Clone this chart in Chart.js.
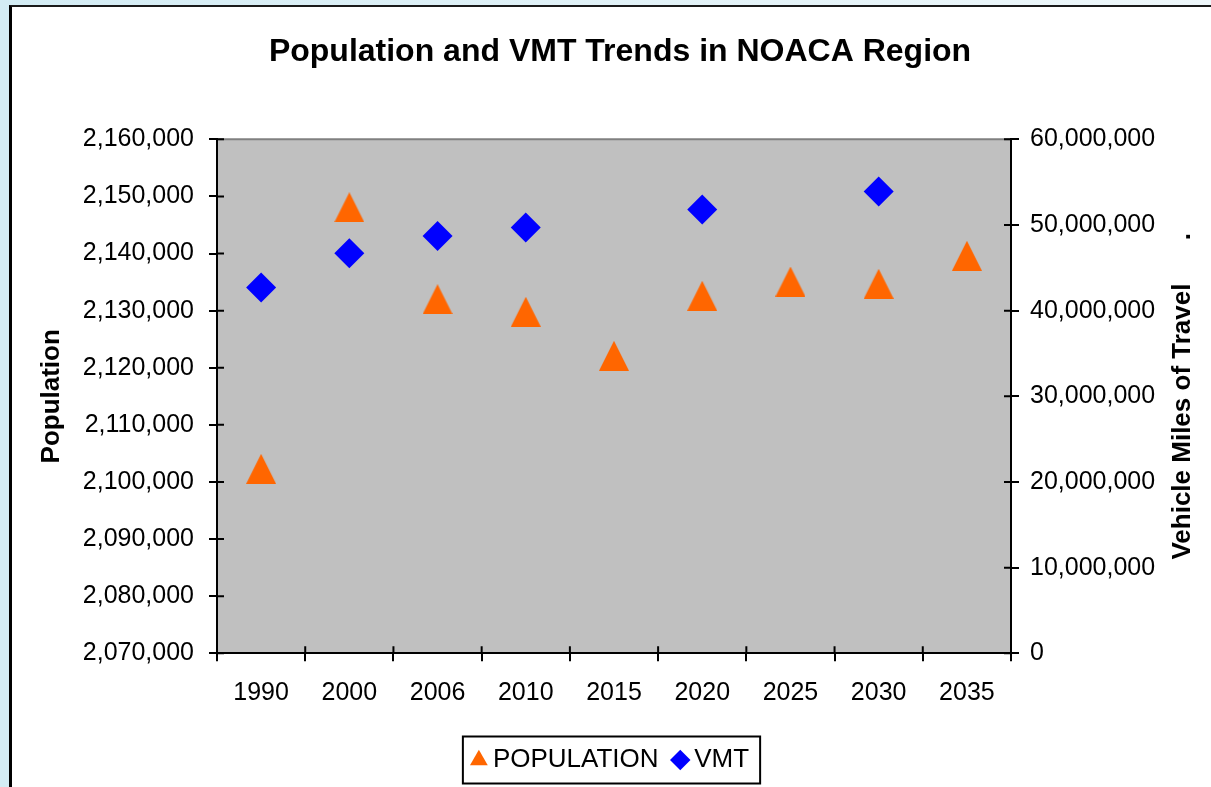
<!DOCTYPE html>
<html>
<head>
<meta charset="utf-8">
<script src="https://cdn.jsdelivr.net/npm/chart.js@4"></script>
<style>
    html, body { margin: 0; padding: 0; width: 1211px; height: 787px; overflow: hidden; }
    body { background: linear-gradient(to right, #d3ecf4, #eef7fa); position: relative; }
    .frame { position: absolute; left: 9px; top: 5px; width: 1300px; height: 900px; background: #fff; border-left: 3px solid #000; border-top: 2px solid #1a1a1a; }
    #chart { position: absolute; left: 0; top: 0; }
</style>
</head>
<body>
<div class="frame"></div>
<canvas id="chart" width="1211" height="787"></canvas>
<script>
"use strict";

const TITLE = "Population and VMT Trends in NOACA Region";
const YEARS = ["1990", "2000", "2006", "2010", "2015", "2020", "2025", "2030", "2035"];
const POPULATION = [2102300, 2148100, 2132000, 2129800, 2122100, 2132600, 2135100, 2134700, 2139600];
const VMT = [42700000, 46700000, 48700000, 49700000, null, 51800000, null, 53900000, null];
const POP_TICKS = { min: 2070000, max: 2160000, step: 10000 };
const VMT_TICKS = { min: 0, max: 60000000, step: 10000000 };

const FONT = "'Liberation Sans', Arial, sans-serif";
const ORANGE = "#ff6600";
const BLUE = "#0000ff";

// excel style triangle: bounding box centred on the point
function triangleMarker(size, color) {
    const c = document.createElement("canvas");
    c.width = size; c.height = size;
    const g = c.getContext("2d");
    g.fillStyle = color;
    g.beginPath();
    g.moveTo(size / 2, 0);
    g.lineTo(size, size);
    g.lineTo(0, size);
    g.closePath();
    g.fill();
    return c;
}

const fmt = (v) => Number(v).toLocaleString("en-US");

const excelFrame = {
    id: "excelFrame",
    beforeDraw(chart) {
        const { ctx, chartArea: a } = chart;
        ctx.save();
        ctx.fillStyle = "#c0c0c0";
        ctx.fillRect(a.left, a.top, a.right - a.left, a.bottom - a.top);
        ctx.strokeStyle = "#808080";
        ctx.lineWidth = 2;
        ctx.beginPath();
        ctx.moveTo(a.left, a.top);
        ctx.lineTo(a.right, a.top);
        ctx.stroke();

        ctx.font = "bold 32px " + FONT;
        ctx.fillStyle = "#000";
        ctx.textAlign = "center";
        ctx.textBaseline = "middle";
        ctx.fillText(TITLE, (a.left + a.right) / 2 + 6, 52);
        ctx.restore();
    },
    beforeDatasetsDraw(chart) {
        // tick marks crossing into the plot area
        const { ctx, chartArea: a, scales } = chart;
        ctx.save();
        ctx.strokeStyle = "#000";
        ctx.lineWidth = 2;
        ctx.beginPath();
        for (let i = 0; i <= YEARS.length; i++) {
            const px = scales.x.getPixelForValue(i - 0.5);
            ctx.moveTo(px, a.bottom);
            ctx.lineTo(px, a.bottom - 7);
        }
        scales.y.ticks.forEach((t, i) => {
            const py = scales.y.getPixelForTick(i);
            ctx.moveTo(a.left, py);
            ctx.lineTo(a.left + 7, py);
        });
        scales.y1.ticks.forEach((t, i) => {
            const py = scales.y1.getPixelForTick(i);
            ctx.moveTo(a.right, py);
            ctx.lineTo(a.right - 7, py);
        });
        ctx.stroke();
        ctx.restore();
    },
    afterDraw(chart) {
        const { ctx, chartArea: a, scales, legend } = chart;
        ctx.save();
        // right axis title reads bottom to top
        ctx.translate(scales.y1.right - 28, (a.top + a.bottom) / 2);
        ctx.rotate(-Math.PI / 2);
        ctx.font = "bold 26px " + FONT;
        ctx.fillStyle = "#000";
        ctx.textAlign = "center";
        ctx.textBaseline = "middle";
        ctx.fillText("Vehicle Miles of Travel      .", 0, 0);
        ctx.restore();

        const boxes = legend.legendHitBoxes;
        if (boxes && boxes.length) {
            const first = boxes[0], last = boxes[boxes.length - 1];
            const cy = first.top + first.height / 2;
            const x0 = first.left - 15, x1 = last.left + last.width + 11;
            ctx.save();
            ctx.strokeStyle = "#000";
            ctx.lineWidth = 2;
            ctx.strokeRect(x0, cy - 23.5, x1 - x0, 47);
            ctx.restore();
        }
    },
};

new Chart(document.getElementById("chart"), {
    type: "line",
    data: {
        labels: YEARS,
        datasets: [
            { label: "POPULATION", data: POPULATION, yAxisID: "y", showLine: false, pointStyle: triangleMarker(30, ORANGE), pointRadius: 15, pointHoverRadius: 15, backgroundColor: ORANGE, borderColor: ORANGE, borderWidth: 0 },
            { label: "VMT", data: VMT, yAxisID: "y1", showLine: false, pointStyle: "rectRot", pointRadius: 15, pointHoverRadius: 15, backgroundColor: BLUE, borderColor: BLUE, pointBorderWidth: 0 },
        ],
    },
    options: {
        responsive: false,
        animation: false,
        layout: { padding: { left: 16, right: 0, top: 139.3, bottom: 4 } },
        plugins: {
            title: { display: false },
            legend: {
                position: "bottom",
                labels: {
                    usePointStyle: true, boxWidth: 2, boxHeight: 14.5, padding: 20.7, color: "#000",
                    font: { family: FONT, size: 26 },
                    generateLabels(chart) {
                        const items = Chart.defaults.plugins.legend.labels.generateLabels(chart);
                        return items.map((it, i) => Object.assign(it, { pointStyle: i === 0 ? "triangle" : "rectRot", lineWidth: 0, strokeStyle: it.fillStyle }));
                    },
                },
            },
            tooltip: { enabled: false },
        },
        scales: {
            x: {
                offset: true,
                grid: { offset: true, drawOnChartArea: false, tickLength: 8, color: "#000", lineWidth: 2 },
                border: { color: "#000", width: 2 },
                ticks: { color: "#000", padding: 16.5, font: { family: FONT, size: 25 }, maxRotation: 0 },
                afterFit(s) { s.height = 73; },
            },
            y: {
                position: "left", min: POP_TICKS.min, max: POP_TICKS.max,
                grid: { drawOnChartArea: false, tickLength: 8, color: "#000", lineWidth: 2 },
                border: { color: "#000", width: 2 },
                ticks: { stepSize: POP_TICKS.step, color: "#000", padding: 15, font: { family: FONT, size: 25 }, callback: fmt },
                title: { display: true, text: "Population", color: "#000", font: { family: FONT, size: 26, weight: "bold" }, padding: { top: 20.4, bottom: 0 } },
                afterFit(s) { s.width = 201; },
            },
            y1: {
                position: "right", min: VMT_TICKS.min, max: VMT_TICKS.max,
                grid: { drawOnChartArea: false, tickLength: 8, color: "#000", lineWidth: 2 },
                border: { color: "#000", width: 2 },
                ticks: { stepSize: VMT_TICKS.step, color: "#000", padding: 11, font: { family: FONT, size: 25 }, callback: fmt },
                afterFit(s) { s.width = 200; },
            },
        },
    },
    plugins: [excelFrame],
});
</script>
</body>
</html>
